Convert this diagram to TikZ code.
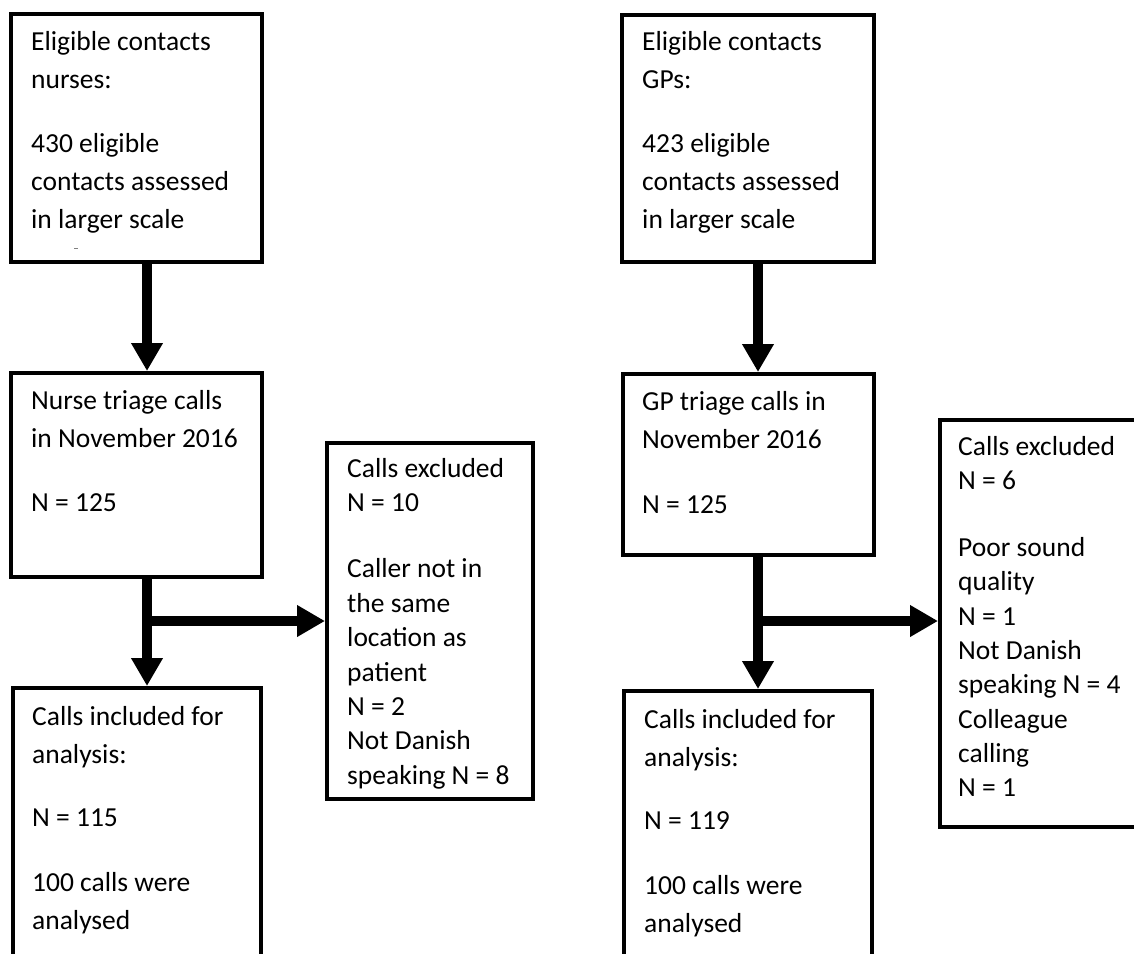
\documentclass[tikz,border=0pt]{standalone}
\usepackage{fontspec}
\setmainfont{Carlito}
\usetikzlibrary{arrows.meta}
\newcommand{\flowtext}[3]{\parbox[t]{#1}{\fontsize{27.5pt}{#2}\selectfont\raggedright #3}}
\begin{document}
\begin{tikzpicture}[x=1pt,y=-1pt,
  box/.style={draw, line width=4pt, anchor=north west, inner sep=0pt},
  arr/.style={line width=10pt, -{Triangle[width=30pt,length=28pt]}},
  txt/.style={anchor=base west, inner sep=0pt}]
\useasboundingbox (0,0) rectangle (1134,953);
\fill[white] (0,0) rectangle (1134,953);
\clip (0,0) rectangle (1134,953);

% boxes, nurse side
\node[box, minimum width=251pt, minimum height=248pt] (n1) at (9,12) {};
\node[box, minimum width=251pt, minimum height=204pt] (n2) at (9,371) {};
\node[box, minimum width=248pt, minimum height=300pt] (n3) at (11,686) {};
\node[box, minimum width=206pt, minimum height=356pt] (n4) at (325,441) {};
% boxes, GP side
\node[box, minimum width=252pt, minimum height=247pt] (g1) at (620,13) {};
\node[box, minimum width=251pt, minimum height=181pt] (g2) at (621,372) {};
\node[box, minimum width=248pt, minimum height=300pt] (g3) at (622,689) {};
\node[box, minimum width=250pt, minimum height=407pt] (g4) at (938,418) {};

% texts, nurse side
\node[txt] (n1t) at (31,50) {\flowtext{225pt}{38pt}{Eligible contacts\\nurses:\\[26pt]430 eligible\\contacts assessed\\in larger scale}};
\draw[gray, line width=1pt] (74,248) -- (78,248);
\node[txt] (n2t) at (31,409) {\flowtext{225pt}{38pt}{Nurse triage calls\\in November 2016\\[26pt]N = 125}};
\node[txt] (n3t) at (32,725) {\flowtext{220pt}{38pt}{Calls included for\\analysis:\\[25pt]N = 115\\[27pt]100 calls were\\analysed}};
\node[txt] (n4t) at (347,477) {\flowtext{180pt}{34.4pt}{Calls excluded\\N = 10\\[32pt]Caller not in\\the same\\location as\\patient\\N = 2\\Not Danish\\speaking N = 8}};

% texts, GP side
\node[txt] (g1t) at (642,50) {\flowtext{225pt}{38pt}{Eligible contacts\\GPs:\\[26pt]423 eligible\\contacts assessed\\in larger scale}};
\node[txt] (g2t) at (642,410) {\flowtext{225pt}{38pt}{GP triage calls in\\November 2016\\[27pt]N = 125}};
\node[txt] (g3t) at (644,728) {\flowtext{220pt}{38pt}{Calls included for\\analysis:\\[25pt]N = 119\\[27pt]100 calls were\\analysed}};
\node[txt] (g4t) at (958,455) {\flowtext{180pt}{34.3pt}{Calls excluded\\N = 6\\[33pt]Poor sound\\quality\\N = 1\\Not Danish\\speaking N = 4\\Colleague\\calling\\N = 1}};

% connectors, nurse side
\coordinate (nx) at (147,0);
\coordinate (nj) at (147,621);
\draw[arr] (n1.south -| nx) -- (n2.north -| nx);
\draw[arr] (n2.south -| nx) -- (n3.north -| nx);
\draw[arr] (nj) -- (n4.west |- nj);

% connectors, GP side
\coordinate (gx) at (758,0);
\coordinate (gj) at (758,621);
\draw[arr] (g1.south -| gx) -- (g2.north -| gx);
\draw[arr] (g2.south -| gx) -- (g3.north -| gx);
\draw[arr] (gj) -- (g4.west |- gj);
\end{tikzpicture}
\end{document}
